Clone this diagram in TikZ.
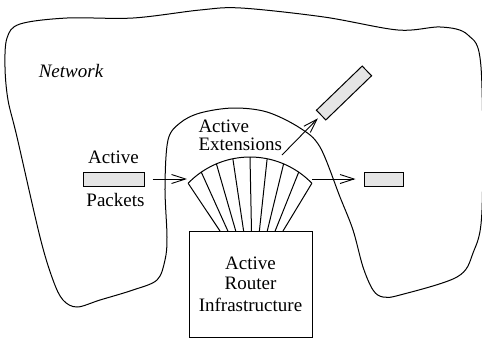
\documentclass[tikz,border=0pt]{standalone}
\usepackage{fontspec}
\setmainfont{Liberation Serif}
\usetikzlibrary{positioning, calc, arrows.meta}
\definecolor{PacketGray}{RGB}{229,229,229}
\tikzset{
    packet/.style={
        draw, fill=PacketGray, minimum height=7pt, inner sep=0pt
    },
    routerbox/.style={
        draw, minimum width=61.5pt, minimum height=53pt, align=center,
        font=\fontsize{9.5}{10}\selectfont
    },
    flow/.style={
        -{Straight Barb[length=7pt,width=4.5pt]}, line width=0.45pt
    },
    labeltext/.style={
        font=\fontsize{9.5}{11}\selectfont, inner sep=0pt
    }
}
\begin{document}
\begin{tikzpicture}[x=0.5pt, y=-0.5pt, line width=0.5pt]
    \useasboundingbox (0,0) rectangle (482,339);
    % network cloud
    \draw plot[smooth cycle, tension=0.55] coordinates {
        (20,24) (67,18) (133,18) (200,10) (241,8) (324,17) (398,30) (441,27)
        (468,35) (481,67) (482,210) (473,253) (457,277) (400,295) (383,297)
        (373,290) (363,267) (353,230) (340,197) (320,147) (300,128) (267,112)
        (233,108) (200,113) (180,123) (168,140) (165,187) (167,237) (165,260)
        (157,280) (133,290) (100,300) (77,307) (63,300) (53,280) (40,237)
        (17,137) (8,100) (5,67) (7,38)};
    \node[labeltext, font=\fontsize{9.5}{11}\selectfont\itshape] (net) at (71,71) {Network};

    % router and extensions
    \node[routerbox] (router) at (250.5,284) {Active\\Router\\[1pt]Infrastructure};
    \draw plot[domain=44:136, samples=40] ({250+86*cos(\x)},{243-86*sin(\x)});
    \foreach \i in {0,...,8}
        \draw ({250+86*cos(136-11.5*\i)},{243-86*sin(136-11.5*\i)}) -- ({220+7.875*\i},231);
    \node[labeltext, anchor=west] (extA) at (198,126.5) {Active};
    \node[labeltext, anchor=west] (extB) at (198,144.5) {Extensions};
    \coordinate (fanL) at (187,179);
    \coordinate (fanR) at (312,179);
    \coordinate (fanT) at (282,155);

    % packets
    \node[packet, minimum width=30.5pt] (pktin) at (113.5,179) {};
    \node[labeltext, above=3.7pt of pktin] (pktinA) {Active};
    \node[labeltext, below=3.2pt of pktin, xshift=1pt] (pktinB) {Packets};
    \node[packet, minimum width=19.5pt] (pktout) at (383.5,179) {};
    \node[packet, minimum width=31.8pt, minimum height=6.75pt, rotate=44] (pktup) at (344,93) {};

    \draw[flow] ([xshift=4pt]pktin.east) -- (fanL);
    \draw[flow] (fanR) -- ([xshift=-4pt]pktout.west);
    \draw[flow, shorten >=2pt] (fanT) -- (pktup.west);
\end{tikzpicture}
\end{document}
